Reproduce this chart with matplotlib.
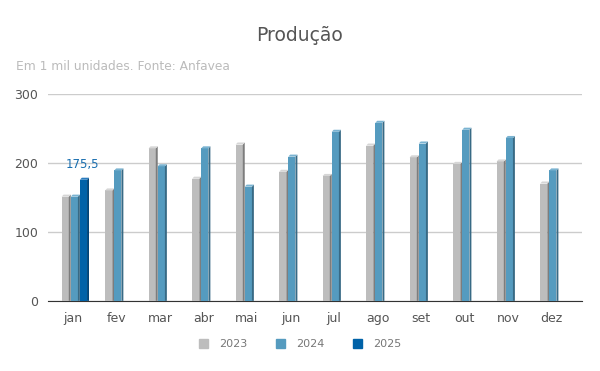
import matplotlib.pyplot as plt
from matplotlib.patches import Polygon
from matplotlib.patches import Patch
import numpy as np

meses = ['jan', 'fev', 'mar', 'abr', 'mai', 'jun', 'jul', 'ago', 'set', 'out', 'nov', 'dez']
prod_2023 = [151, 160, 221, 177, 226.5, 187, 181, 225, 208, 198.5, 202, 170]
prod_2024 = [151, 189, 195, 221, 165.5, 209, 245, 258, 228, 248, 236, 189]
prod_2025 = [175.5] + [np.nan] * 11
anos = ['2023', '2024', '2025']

faces = ['#bdbdbd', '#559bbf', '#0062a8']
sides = ['#7d7d7d', '#386a85', '#004478']
tops = ['#d6d6d6', '#7ab3d1', '#2a7cbf']

fig = plt.figure(figsize=(6, 3.71), dpi=100)
ax = fig.add_axes([0.08, 0.189, 0.89, 0.558])

x = np.arange(len(meses))
w = 0.165
sw = 0.045   # side face width
dy = 3.0     # depth rise in data units

for i, serie in enumerate([prod_2023, prod_2024, prod_2025]):
    pos = x + (i - 1) * (w + sw) + 0.03
    ax.bar(pos, serie, width=w, color=faces[i], align='center', zorder=3, linewidth=0)
    for xp, v in zip(pos, serie):
        if np.isnan(v):
            continue
        r = xp + w / 2
        side = Polygon([(r, 0), (r + sw, 0), (r + sw, v + dy), (r, v)],
                       closed=True, color=sides[i], lw=0, zorder=3)
        top = Polygon([(r - w, v), (r, v), (r + sw, v + dy), (r - w + sw, v + dy)],
                      closed=True, color=tops[i], lw=0, zorder=3)
        ax.add_patch(side)
        ax.add_patch(top)

ax.text(x[0] + 0.22, prod_2025[0] + 13, '175,5', color='#1a6fb0',
        fontsize=8.5, ha='center', va='bottom')

ax.set_xlim(-0.575, 11.70)
ax.set_ylim(0, 300)
ax.set_yticks([0, 100, 200, 300])
ax.set_xticks(x)
ax.set_xticklabels(meses)
ax.grid(axis='y', color='#cccccc', linewidth=1, zorder=0)
for s in ['top', 'right', 'left']:
    ax.spines[s].set_visible(False)
ax.spines['bottom'].set_color('#333333')
ax.tick_params(length=0, labelsize=9, colors='#555555', pad=8)
ax.tick_params(axis='y', pad=7)

fig.text(0.5, 0.905, 'Produção', ha='center', va='center', fontsize=13.5, color='#555555')
fig.text(0.027, 0.82, 'Em 1 mil unidades. Fonte: Anfavea', va='center', fontsize=8.8, color='#bbbbbb')

handles = [Patch(color=c) for c in faces]
leg = fig.legend(handles, anos, loc='center', bbox_to_anchor=(0.5, 0.072), ncol=3,
                 frameon=False, fontsize=8, handlelength=0.8, handleheight=0.8,
                 columnspacing=2.6, handletextpad=1.0)
for t in leg.get_texts():
    t.set_color('#777777')

fig.savefig('out.png', dpi=100)
